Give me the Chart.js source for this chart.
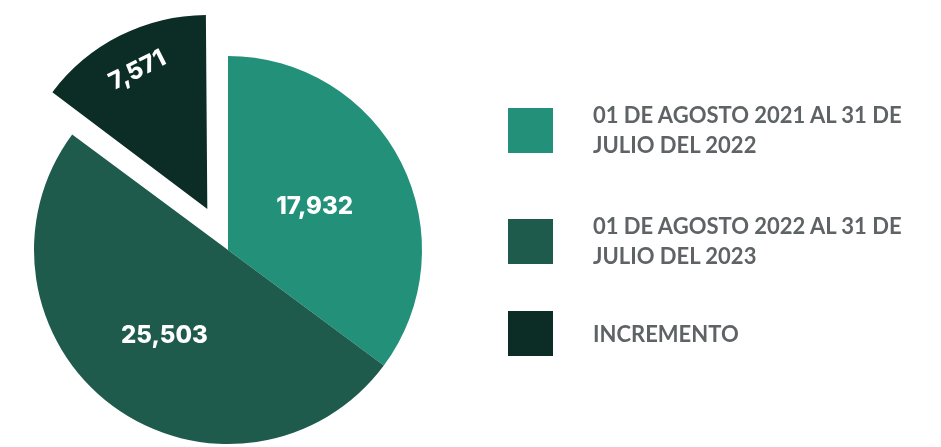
<!DOCTYPE html>
<html>
<head>
<meta charset="utf-8">
<script src="https://cdn.jsdelivr.net/npm/chart.js@4/dist/chart.umd.min.js"></script>
<style>
  html, body { margin: 0; padding: 0; background: #fff; }
  #wrap { position: relative; width: 941px; height: 447px; overflow: hidden; }
  #legend { position: absolute; left: 508px; top: 0; font-family: Lato, sans-serif; font-weight: 700; font-size: 22px; line-height: 30px; color: #5e6365; }
  .item { position: absolute; left: 0; display: flex; align-items: center; white-space: nowrap; }
  .box { width: 45px; height: 45px; margin-right: 40px; flex: none; }
</style>
</head>
<body>
<div id="wrap">
  <canvas id="chart" width="941" height="447"></canvas>
  <div id="legend"></div>
</div>
<script>
const labels = [
  ['01 DE AGOSTO 2021 AL 31 DE', 'JULIO DEL 2022'],
  ['01 DE AGOSTO 2022 AL 31 DE', 'JULIO DEL 2023'],
  ['INCREMENTO']
];
const values = [17932, 25503, 7571];
const colors = ['#23917a', '#1f5b4c', '#0b2d25'];
// chart.js v4 moves an arc by offset / 4
const offsets = [0, 0, 184];
const labelDistance = [0.5, 0.55, 0.8];
const legendTops = [100, 211, 311];

// v4 also grows an offset arc a little; keep the pulled-out slice the same size
const keepRadius = {
  id: 'keepRadius',
  beforeDatasetsDraw(chart) {
    const meta = chart.getDatasetMeta(0);
    meta.data.forEach(arc => {
      const off = (arc.options.offset || 0) / 4;
      const fix = 1 - Math.sin(Math.min(Math.PI, arc.circumference));
      arc.outerRadius = meta.controller.outerRadius - off * fix;
    });
  }
};

// white numbers on the slices
const valueLabels = {
  id: 'valueLabels',
  afterDatasetsDraw(chart) {
    const ctx = chart.ctx;
    const meta = chart.getDatasetMeta(0);
    meta.data.forEach((arc, i) => {
      const p = arc.getProps(['x', 'y', 'startAngle', 'endAngle'], true);
      const mid = (p.startAngle + p.endAngle) / 2;
      const r = (arc.options.offset || 0) / 4 + meta.controller.outerRadius * labelDistance[i];
      ctx.save();
      ctx.translate(p.x + Math.cos(mid) * r, p.y + Math.sin(mid) * r);
      if (i === 2) ctx.rotate(mid + Math.PI / 2);
      ctx.fillStyle = '#fff';
      ctx.font = '800 24px Inter, sans-serif';
      ctx.textAlign = 'center';
      ctx.textBaseline = 'middle';
      ctx.fillText(values[i].toLocaleString('en-US'), 0, 0);
      ctx.restore();
    });
  }
};

new Chart(document.getElementById('chart'), {
  type: 'pie',
  data: {
    labels: labels.map(l => l.join(' ')),
    datasets: [{
      data: values,
      backgroundColor: colors,
      borderWidth: 0,
      offset: offsets,
      hoverOffset: 0
    }]
  },
  options: {
    responsive: false,
    animation: false,
    events: [],
    radius: 194,
    layout: { padding: { left: 0, right: 485, top: 53, bottom: 0 } },
    plugins: { legend: { display: false }, tooltip: { enabled: false } }
  },
  plugins: [keepRadius, valueLabels]
});

// legend on the right
const legend = document.getElementById('legend');
labels.forEach((l, i) => {
  const item = document.createElement('div');
  item.className = 'item';
  item.style.top = legendTops[i] + 'px';
  item.innerHTML = '<div class="box" style="background:' + colors[i] + '"></div><div>' + l.join('<br>') + '</div>';
  legend.appendChild(item);
});
</script>
</body>
</html>
